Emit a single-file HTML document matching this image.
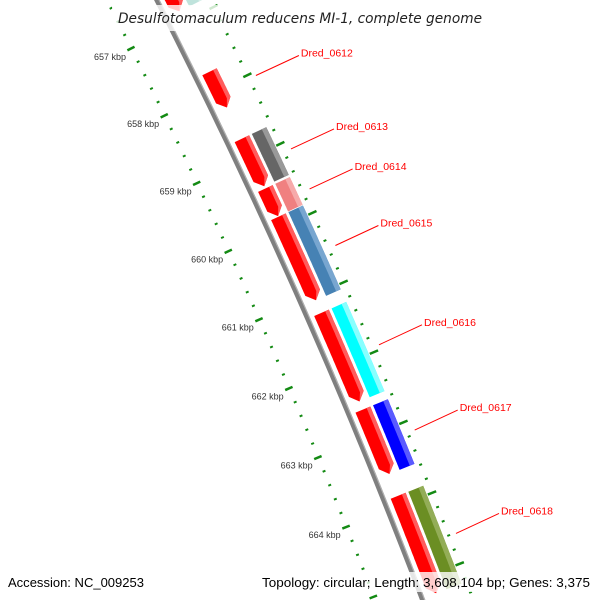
<!DOCTYPE html>
<html><head><meta charset="utf-8"><style>
html,body{margin:0;padding:0;background:#fff;width:600px;height:600px;overflow:hidden;}
svg{display:block;}
</style></head><body>
<svg id="chart" width="600" height="600" viewBox="0 0 600 600" xmlns="http://www.w3.org/2000/svg" overflow="hidden">
<rect width="600" height="600" fill="#fff"/>
<g id="backbone-layer"></g>
<g id="ticks-layer"></g>
<g id="genes-layer"></g>
<g id="labels-layer"></g>
<rect x="112" y="5" width="376" height="26" fill="#fff" opacity="0.8"/>
<text x="300" y="23" text-anchor="middle" font-family="DejaVu Sans, sans-serif" font-style="italic" font-size="14" fill="#222" textLength="364" lengthAdjust="spacingAndGlyphs">Desulfotomaculum reducens MI-1, complete genome</text>
<rect x="4" y="572" width="152" height="20" fill="#fff" opacity="0.8"/>
<rect x="258" y="572" width="336" height="20" fill="#fff" opacity="0.8"/>
<text x="8" y="587" font-family="Liberation Sans, sans-serif" font-size="13" fill="#000" textLength="136" lengthAdjust="spacingAndGlyphs">Accession: NC_009253</text>
<text x="262" y="587" font-family="Liberation Sans, sans-serif" font-size="13" fill="#000" textLength="328" lengthAdjust="spacingAndGlyphs">Topology: circular; Length: 3,608,104 bp; Genes: 3,375</text>
</svg>
<script>
// ---- data ----
const geneNames = ["top_gene","Dred_0612","Dred_0613","Dred_0614","Dred_0615","Dred_0616","Dred_0617","Dred_0618"];
const geneStarts = [655900, 657740, 658722, 659449, 659860, 661250, 662640, 663870];
const geneEnds   = [656850, 658265, 659417, 659850, 661070, 662525, 663560, 665250];
const twinColors = ["#bfe3dc", null, "#666666", "#f08080", "#4682b4", "#00ffff", "#0000ff", "#6b8e23"];
const twinLights = ["#d8efe9", null, "#999999", "#f6aaaa", "#78a6d0", "#88ffff", "#5a5aff", "#93ad57"];
const labelShown = [false, true, true, true, true, true, true, true];
const tickKbp = [656, 657, 658, 659, 660, 661, 662, 663, 664, 665, 666];
const tickLabels = ["656 kbp","657 kbp","658 kbp","659 kbp","660 kbp","661 kbp","662 kbp","663 kbp","664 kbp","665 kbp","666 kbp"];

// ---- geometry ----
const CX = -5229, CY = 2745;
const NS = "http://www.w3.org/2000/svg";
function theta(bp){ return (-24.2 + (bp - 660500) * 0.000716) * Math.PI / 180; }
function polar(bp, r){ const t = theta(bp); return [CX + r*Math.cos(t), CY + r*Math.sin(t)]; }
function arcPts(b0, b1, r){ const pts=[]; const n=40; for(let i=0;i<=n;i++){ pts.push(polar(b0+(b1-b0)*i/n, r)); } return pts; }
function mk(tag, attrs, parent){ const e=document.createElementNS(NS,tag); for(const k in attrs) e.setAttribute(k, attrs[k]); parent.appendChild(e); return e; }
function ptsStr(p){ return p.map(q=>q[0].toFixed(1)+","+q[1].toFixed(1)).join(" "); }

// backbone
const bbL = document.getElementById('backbone-layer');
let bb = mk('polyline', {points: ptsStr(arcPts(655500, 666200, 6045)), fill:'none', stroke:'#7f7f7f', 'stroke-width':5}, bbL);


let bbh = mk('polyline', {points: ptsStr(arcPts(655500, 666200, 6047)), fill:'none', stroke:'#b0b0b0', 'stroke-width':1.2}, bbL);



// ticks
const tkL = document.getElementById('ticks-layer');
for (let bp = 655600; bp <= 666200; bp += 200) {
  const major = (bp % 1000 === 0);
  const rIn = major ? [5996, 6004] : [5999, 6002];
  const rOut = major ? [6088, 6097] : [6091, 6094];
  const a = polar(bp, rIn[0]), b = polar(bp, rIn[1]);
  let t1 = mk('line', {x1:a[0],y1:a[1],x2:b[0],y2:b[1],stroke:'#138a13','stroke-width': major?2.5:2}, tkL);
  
  
  const c = polar(bp, rOut[0]), d = polar(bp, rOut[1]);
  let t2 = mk('line', {x1:c[0],y1:c[1],x2:d[0],y2:d[1],stroke:'#138a13','stroke-width': major?2.5:2}, tkL);
  
  
}
tickKbp.forEach((k, i) => {
  const p = polar(k*1000, 5990);
  let tx = mk('text', {x:(p[0]+4).toFixed(1), y:(p[1]+7).toFixed(1), 'text-anchor':'end', 'font-family':'Liberation Sans, sans-serif', 'font-size':9, fill:'#333'}, tkL);
  tx.textContent = tickLabels[i];
  
  
});

// genes
const gL = document.getElementById('genes-layer');
const ARW = 110; // arrowhead length in bp
geneNames.forEach((name, i) => {
  const s = geneStarts[i], e = geneEnds[i];
  const r0 = 6052, r1 = 6068, rm = 6060, rl = 6064;
  const bodyEnd = e - ARW;
  let poly = arcPts(s, bodyEnd, r0).concat([polar(e, rm)]).concat(arcPts(s, bodyEnd, r1).reverse());
  let g = mk('polygon', {points: ptsStr(poly), fill:'#ff0000'}, gL);
  
  
  let hl = arcPts(s, bodyEnd, rl).concat([polar(e, rm)]).concat(arcPts(s, bodyEnd, r1).reverse());
  let h = mk('polygon', {points: ptsStr(hl), fill:'#ff5c5c'}, gL);
  
  
  if (twinColors[i]) {
    const q0 = 6071, q1 = 6087, ql = 6082;
    let tp = arcPts(s, e, q0).concat(arcPts(s, e, q1).reverse());
    let tw = mk('polygon', {points: ptsStr(tp), fill: twinColors[i]}, gL);
    
    
    let tl = arcPts(s, e, ql).concat(arcPts(s, e, q1).reverse());
    let th = mk('polygon', {points: ptsStr(tl), fill: twinLights[i]}, gL);
    
    
  }
});

// labels
const lL = document.getElementById('labels-layer');
geneNames.forEach((name, i) => {
  if (!labelShown[i]) return;
  const mid = (geneStarts[i] + geneEnds[i]) / 2 + 50;
  const p = polar(mid, 6100);
  const q = [p[0] + 43, p[1] - 20];
  let ln = mk('line', {x1:p[0].toFixed(1), y1:p[1].toFixed(1), x2:q[0].toFixed(1), y2:q[1].toFixed(1), stroke:'#ff0000', 'stroke-width':1}, lL);
  
  
  let tx = mk('text', {x:(q[0]+2).toFixed(1), y:(q[1]+1).toFixed(1), 'font-family':'Liberation Sans, sans-serif', 'font-size':10.5, fill:'#ff0000'}, lL);
  tx.textContent = name;
  
  
});
</script>
</body></html>
